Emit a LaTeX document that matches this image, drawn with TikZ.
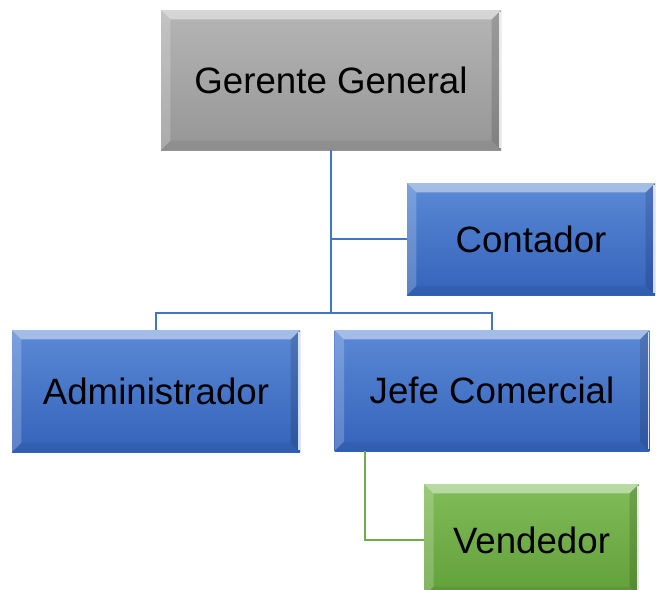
\documentclass[tikz,border=0pt]{standalone}
\usepackage{fontspec}
\setmainfont{Liberation Sans}
\usetikzlibrary{calc}

\definecolor{grisTop}{HTML}{B5B5B5}
\definecolor{grisBot}{HTML}{969696}
\definecolor{azulTop}{HTML}{5B89D6}
\definecolor{azulBot}{HTML}{3463BA}
\definecolor{verdeTop}{HTML}{80BC58}
\definecolor{verdeBot}{HTML}{62A03A}
\definecolor{azulLinea}{HTML}{4472C4}
\definecolor{verdeLinea}{HTML}{70AD47}

% bevel edges (path picture runs with a reset transform, so offsets in pt, y up)
\tikzset{
  bevel/.style={path picture={
    \path (path picture bounding box.north west) coordinate (bnw)
          (path picture bounding box.north east) coordinate (bne)
          (path picture bounding box.south west) coordinate (bsw)
          (path picture bounding box.south east) coordinate (bse);
    \fill[white,opacity=.45] (bnw) -- (bne) -- ($(bne)+(-7pt,-7pt)$) -- ($(bnw)+(7pt,-7pt)$) -- cycle;
    \fill[white,opacity=.2] (bnw) -- ($(bnw)+(7pt,-7pt)$) -- ($(bsw)+(7pt,7pt)$) -- (bsw) -- cycle;
    \fill[black,opacity=.06] (bsw) -- (bse) -- ($(bse)+(-7pt,7pt)$) -- ($(bsw)+(7pt,7pt)$) -- cycle;
    \fill[black,opacity=.14] (bne) -- (bse) -- ($(bse)+(-7pt,7pt)$) -- ($(bne)+(-7pt,-7pt)$) -- cycle;
    \draw[white,opacity=.8,line width=1pt] ($(bne)+(-.7pt,-1.5pt)$) -- ($(bse)+(-.7pt,1.5pt)$);
  }},
  cargo/.style={rectangle, bevel, inner sep=0pt,
    font=\fontsize{27.5}{33}\selectfont, text=black},
  gris/.style={cargo, top color=grisTop, bottom color=grisBot},
  azul/.style={cargo, top color=azulTop, bottom color=azulBot},
  verde/.style={cargo, top color=verdeTop, bottom color=verdeBot},
  lazo/.style={line width=1.8pt, azulLinea},
  lazoverde/.style={line width=1.8pt, verdeLinea},
}

\begin{document}
\begin{tikzpicture}[x=0.75pt,y=0.75pt,yscale=-1,xscale=1]
\useasboundingbox (0,0) rectangle (656,589);

% junction points
\coordinate (bus) at (331,313);
\coordinate (pata) at (365,451);

% boxes
\node[gris, minimum width=255pt, minimum height=105pt] (gerente) at (331,80) {Gerente General};
\node[azul, minimum width=186pt, minimum height=84pt] (contador) at (531,239) {Contador};
\node[azul, minimum width=216pt, minimum height=91.5pt] (admin) at (156,391) {Administrador};
\node[azul, minimum width=236pt, minimum height=90.75pt] (jefe) at (492,390.5) {Jefe Comercial};
\node[verde, minimum width=161pt, minimum height=84pt] (vendedor) at (531.5,540) {Vendedor};

% lines
\draw[lazo] (gerente.south) -- (bus);
\draw[lazo] (gerente.south |- contador.west) -- (contador.west);
\draw[lazo] (admin.north) -- (bus -| admin.north) -- (bus -| jefe.north) -- (jefe.north);
\draw[lazoverde] (pata) |- (vendedor.west);

\end{tikzpicture}
\end{document}
